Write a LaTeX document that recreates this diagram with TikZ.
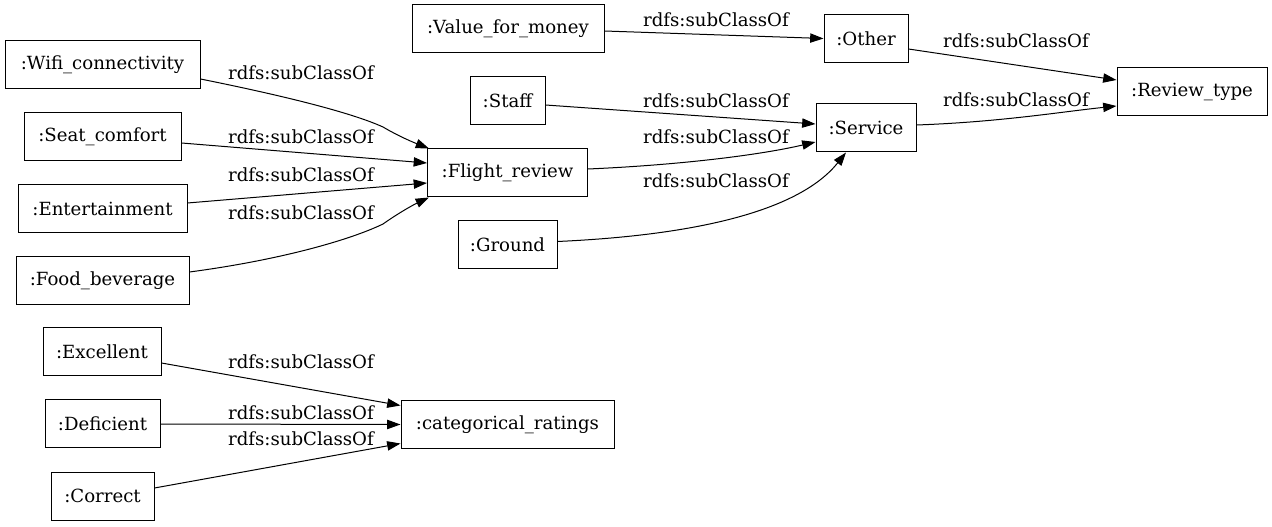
\documentclass[tikz,border=0pt]{standalone}
\usepackage{fontspec}
\setmainfont{DejaVu Serif}
\usetikzlibrary{arrows.meta,calc}
\tikzset{
  box/.style={draw=black, line width=0.75pt, inner sep=0pt, minimum height=36pt, font=\fontsize{13.6}{16}\selectfont},
  lbl/.style={inner sep=0pt, font=\fontsize{13.6}{16}\selectfont},
  edge/.style={draw=black, line width=0.75pt, -{Triangle[length=10pt,width=7pt]}}
}
\begin{document}
\begin{tikzpicture}[x=0.75pt,y=-0.75pt]
\useasboundingbox (0,0) rectangle (1272,527);
% nodes
\node[box, minimum width=144pt] (vfm) at (508,29) {:Value\_for\_money};
\node[box, minimum width=63pt] (other) at (866,38.5) {:Other};
\node[box, minimum width=112.5pt] (rt) at (1192,92) {:Review\_type};
\node[box, minimum width=146.25pt] (wifi) at (102.5,65) {:Wifi\_connectivity};
\node[box, minimum width=56.25pt] (staff) at (507.5,101) {:Staff};
\node[box, minimum width=75pt] (service) at (866,128) {:Service};
\node[box, minimum width=117.75pt] (seat) at (102.5,137) {:Seat\_comfort};
\node[box, minimum width=120pt] (flight) at (507.5,173) {:Flight\_review};
\node[box, minimum width=126.75pt] (ent) at (102.5,209) {:Entertainment};
\node[box, minimum width=74.25pt] (ground) at (507.5,244.5) {:Ground};
\node[box, minimum width=129.75pt] (food) at (102.5,281) {:Food\_beverage};
\node[box, minimum width=88.5pt] (exc) at (102,352) {:Excellent};
\node[box, minimum width=86.25pt] (def) at (102.5,424) {:Deficient};
\node[box, minimum width=159.75pt] (cat) at (507.5,424.5) {:categorical\_ratings};
\node[box, minimum width=77.25pt] (corr) at (102.5,496) {:Correct};
% edges
\draw[edge] ($(vfm.east)+(0,2)$) -- (other.west);
\draw[edge] ($(other.east)+(0,10.5)$) -- ($(rt.west)+(0,-12)$);
\draw[edge] ($(service.east)+(0,-3)$) .. controls (1000,122) and (1060,112) .. ($(rt.west)+(0,14)$);
\draw[edge] ($(staff.east)+(0,4)$) -- ($(service.west)+(0,-4)$);
\draw[edge] ($(flight.east)+(0,-4)$) .. controls (680,165) and (760,155) .. ($(service.west)+(0,14)$);
\draw[edge] ($(ground.east)+(0,-3)$) .. controls (700,235) and (800,210) .. ($(service.south)+(-20,0)$);
\draw[edge] ($(wifi.east)+(0,14)$) .. controls (280,95) and (350,112) .. (383,127) .. controls (400,137) and (415,143) .. ($(flight.north west)+(2,0)$);
\draw[edge] ($(seat.east)+(0,6)$) -- ($(flight.west)+(0,-10)$);
\draw[edge] ($(ent.east)+(0,-6)$) -- ($(flight.west)+(0,10)$);
\draw[edge] ($(food.east)+(0,-9)$) .. controls (280,260) and (350,240) .. (383,224) .. controls (400,212) and (415,204) .. ($(flight.south west)+(2,0)$);
\draw[edge] ($(exc.east)+(0,11)$) -- ($(cat.west)+(0,-19)$);
\draw[edge] (def.east) -- (cat.west);
\draw[edge] ($(corr.east)+(0,-8)$) -- ($(cat.west)+(0,19)$);
% labels
\node[lbl] (l1) at (716,20) {rdfs:subClassOf};
\node[lbl] (l2) at (1016,41) {rdfs:subClassOf};
\node[lbl] (l3) at (1016,100) {rdfs:subClassOf};
\node[lbl] (l4) at (716,101) {rdfs:subClassOf};
\node[lbl] (l5) at (716,137) {rdfs:subClassOf};
\node[lbl] (l6) at (716,181) {rdfs:subClassOf};
\node[lbl] (l7) at (301,73) {rdfs:subClassOf};
\node[lbl] (l8) at (301,137) {rdfs:subClassOf};
\node[lbl] (l9) at (301,175) {rdfs:subClassOf};
\node[lbl] (l10) at (301,213) {rdfs:subClassOf};
\node[lbl] (l11) at (301,362) {rdfs:subClassOf};
\node[lbl] (l12) at (301,413) {rdfs:subClassOf};
\node[lbl] (l13) at (301,439) {rdfs:subClassOf};
\end{tikzpicture}
\end{document}
